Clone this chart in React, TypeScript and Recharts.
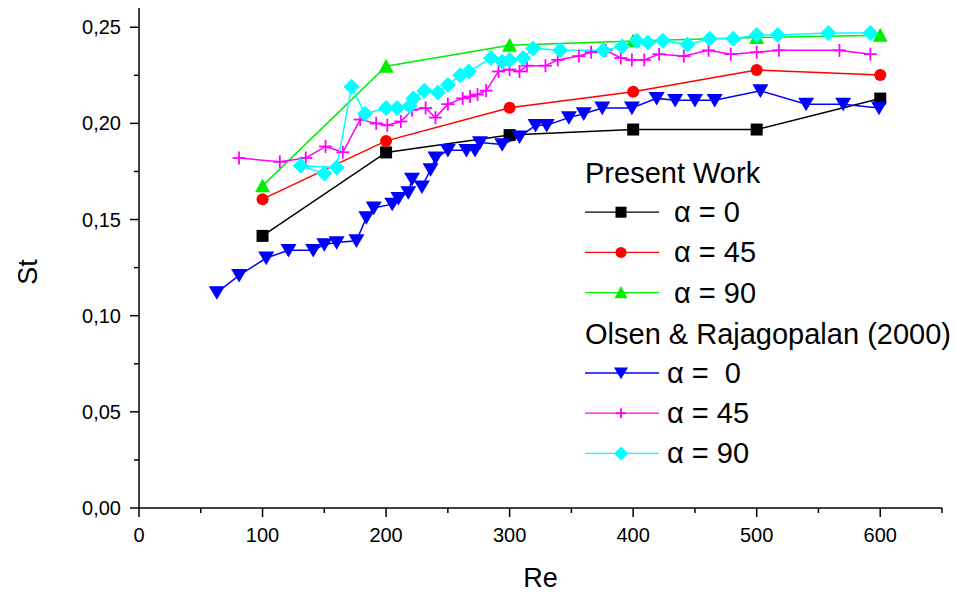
import React from 'react';
import { LineChart, Line, XAxis, YAxis, Legend } from 'recharts';

// Present work (Re = 100..600)
const presentRe = [100, 200, 300, 400, 500, 600];
const presentAlpha0 = [0.1415, 0.1849, 0.1939, 0.1968, 0.1968, 0.2129];
const presentAlpha45 = [0.1606, 0.1909, 0.2081, 0.2164, 0.2277, 0.2251];
const presentAlpha90 = [0.1675, 0.2297, 0.2406, 0.2429, 0.2446, 0.2458];

const olsenAlpha0Re = [63, 81, 103, 121, 141, 150, 160, 176, 184, 190, 205, 210, 218, 221, 229, 236, 240, 250, 265, 272, 276, 294, 308, 321, 330, 348, 360, 375, 399, 419, 434, 450, 466, 503, 540, 570, 599];
const olsenAlpha0St = [0.112, 0.121, 0.130, 0.134, 0.134, 0.137, 0.138, 0.139, 0.151, 0.156, 0.158, 0.161, 0.164, 0.171, 0.167, 0.176, 0.182, 0.186, 0.186, 0.186, 0.190, 0.189, 0.193, 0.199, 0.199, 0.203, 0.205, 0.208, 0.208, 0.213, 0.212, 0.212, 0.212, 0.217, 0.210, 0.210, 0.208];

const olsenAlpha45Re = [81, 114, 135, 151, 165, 179, 192, 201, 212, 221, 232, 240, 250, 262, 268, 274, 281, 291, 300, 308, 314, 329, 339, 356, 366, 378, 390, 399, 409, 421, 441, 461, 479, 500, 518, 567, 592];
const olsenAlpha45St = [0.182, 0.180, 0.182, 0.188, 0.185, 0.202, 0.200, 0.199, 0.201, 0.207, 0.208, 0.203, 0.210, 0.213, 0.214, 0.215, 0.217, 0.227, 0.228, 0.227, 0.230, 0.230, 0.233, 0.235, 0.237, 0.238, 0.234, 0.233, 0.233, 0.236, 0.235, 0.238, 0.236, 0.237, 0.238, 0.238, 0.236];

// kept in the order the original polyline visits them
const olsenAlpha90Re = [150, 131, 160, 172, 183, 200, 209, 219, 222, 231, 242, 250, 260, 267, 285, 294, 300, 311, 319, 341, 376, 391, 403, 412, 424, 444, 462, 481, 500, 517, 558, 592];
const olsenAlpha90St = [0.174, 0.178, 0.177, 0.219, 0.205, 0.208, 0.208, 0.209, 0.213, 0.217, 0.216, 0.220, 0.225, 0.227, 0.234, 0.232, 0.233, 0.234, 0.239, 0.238, 0.238, 0.240, 0.243, 0.242, 0.243, 0.241, 0.244, 0.244, 0.246, 0.246, 0.247, 0.247];

const xTicks = [0, 50, 100, 150, 200, 250, 300, 350, 400, 450, 500, 550, 600, 650];
const yTicks = [0, 0.025, 0.05, 0.075, 0.1, 0.125, 0.15, 0.175, 0.2, 0.225, 0.25];

const FONT = "'Liberation Sans', Arial, sans-serif";

type Shape = 'square' | 'circle' | 'up' | 'down' | 'plus' | 'diamond';

const toPoints = (xs: number[], ys: number[]) => xs.map((x, i) => ({ x, y: ys[i] }));

const marker = (shape: Shape, cx: number, cy: number, s: number, color: string) => {
  const h = s / 2;
  switch (shape) {
    case 'square':
      return <rect x={cx - h} y={cy - h} width={s} height={s} fill={color} />;
    case 'circle':
      return <circle cx={cx} cy={cy} r={h} fill={color} />;
    case 'up':
      return <polygon points={`${cx},${cy - h} ${cx + h},${cy + h * 0.85} ${cx - h},${cy + h * 0.85}`} fill={color} />;
    case 'down':
      return <polygon points={`${cx - h},${cy - h * 0.8} ${cx + h},${cy - h * 0.8} ${cx},${cy + h * 0.9}`} fill={color} />;
    case 'plus':
      return (
        <g stroke={color} strokeWidth={1.8}>
          <line x1={cx - h} y1={cy} x2={cx + h} y2={cy} />
          <line x1={cx} y1={cy - h} x2={cx} y2={cy + h} />
        </g>
      );
    case 'diamond':
      return <polygon points={`${cx},${cy - h} ${cx + h},${cy} ${cx},${cy + h} ${cx - h},${cy}`} fill={color} />;
  }
};

const makeDot = (shape: Shape, size: number, color: string) => (p: any) => {
  if (p.cx == null || p.cy == null) return <g key={`${shape}-${p.index}`} />;
  return <g key={`${shape}-${p.index}`}>{marker(shape, p.cx, p.cy, size, color)}</g>;
};

const XTick = (props: any) => {
  const { x, y, payload } = props;
  const major = payload.value % 100 === 0;
  return (
    <g>
      <line x1={x} y1={y} x2={x} y2={y + (major ? 9 : 5)} stroke="#000" strokeWidth={1.5} />
      {major && (
        <text x={x} y={y + 34} textAnchor="middle" fontSize={20} fontFamily={FONT} fill="#000">
          {payload.value}
        </text>
      )}
    </g>
  );
};

const YTick = (props: any) => {
  const { x, y, payload } = props;
  const major = Math.round(payload.value * 1000) % 50 === 0;
  return (
    <g>
      <line x1={x - (major ? 9 : 5)} y1={y} x2={x} y2={y} stroke="#000" strokeWidth={1.5} />
      {major && (
        <text x={x - 18} y={y + 7} textAnchor="end" fontSize={20} fontFamily={FONT} fill="#000">
          {payload.value.toFixed(2).replace('.', ',')}
        </text>
      )}
    </g>
  );
};

const series = [
  { name: 'present0', data: toPoints(presentRe, presentAlpha0), color: '#000000', shape: 'square' as Shape, size: 12 },
  { name: 'present45', data: toPoints(presentRe, presentAlpha45), color: '#ff0000', shape: 'circle' as Shape, size: 12 },
  { name: 'present90', data: toPoints(presentRe, presentAlpha90), color: '#00ee00', shape: 'up' as Shape, size: 15 },
  { name: 'olsen0', data: toPoints(olsenAlpha0Re, olsenAlpha0St), color: '#0000ff', shape: 'down' as Shape, size: 16 },
  { name: 'olsen45', data: toPoints(olsenAlpha45Re, olsenAlpha45St), color: '#ff00ff', shape: 'plus' as Shape, size: 13 },
  { name: 'olsen90', data: toPoints(olsenAlpha90Re, olsenAlpha90St), color: '#00ffff', shape: 'diamond' as Shape, size: 16 },
];

const legendGroups = [
  {
    title: 'Present Work',
    textX: 99,
    items: [
      { label: 'α = 0', color: '#000000', shape: 'square' as Shape, size: 11 },
      { label: 'α = 45', color: '#ff0000', shape: 'circle' as Shape, size: 11 },
      { label: 'α = 90', color: '#00ee00', shape: 'up' as Shape, size: 13 },
    ],
  },
  {
    title: 'Olsen & Rajagopalan (2000)',
    textX: 92,
    items: [
      { label: 'α =  0', color: '#0000ff', shape: 'down' as Shape, size: 14 },
      { label: 'α = 45', color: '#ff00ff', shape: 'plus' as Shape, size: 10 },
      { label: 'α = 90', color: '#00ffff', shape: 'diamond' as Shape, size: 14 },
    ],
  },
];

const ChartLegend = () => {
  const rowGap = 40.2;
  let y = 22;
  const nodes: React.ReactNode[] = [];
  legendGroups.forEach((g, gi) => {
    nodes.push(
      <text key={`t${gi}`} x={10} y={y + 11} fontSize={29} fontFamily={FONT} fill="#000">
        {g.title}
      </text>
    );
    g.items.forEach((it, ii) => {
      y += rowGap;
      nodes.push(
        <g key={`i${gi}-${ii}`}>
          <line x1={10} y1={y} x2={84} y2={y} stroke={it.color} strokeWidth={1.3} />
          {marker(it.shape, 46, y, it.size, it.color)}
          <text x={g.textX} y={y + 10} fontSize={29} fontFamily={FONT} fill="#000" style={{ whiteSpace: 'pre' }}>
            {it.label}
          </text>
        </g>
      );
    });
    y += rowGap;
  });
  return (
    <svg width={382} height={330}>
      {nodes}
    </svg>
  );
};

export default function App() {
  return (
    <div style={{ position: 'absolute', left: 0, top: 0, background: '#fff' }}>
      <LineChart width={957} height={595} margin={{ top: 8, right: 15, bottom: 0, left: 0 }}>
        <XAxis
          type="number"
          dataKey="x"
          domain={[0, 650]}
          ticks={xTicks}
          interval={0}
          height={87}
          tickSize={0}
          tickMargin={0}
          tickLine={false}
          axisLine={{ stroke: '#000', strokeWidth: 1.5 }}
          tick={<XTick />}
          label={{
            content: (p: any) => (
              <text x={p.viewBox.x + p.viewBox.width / 2} y={p.viewBox.y + 79} textAnchor="middle" fontSize={27} fontFamily={FONT} fill="#000">
                Re
              </text>
            ),
          }}
        />
        <YAxis
          type="number"
          dataKey="y"
          domain={[0, 0.26]}
          ticks={yTicks}
          interval={0}
          width={139}
          tickSize={0}
          tickMargin={0}
          tickLine={false}
          axisLine={{ stroke: '#000', strokeWidth: 1.5 }}
          tick={<YTick />}
          label={{
            content: (p: any) => {
              const cx = p.viewBox.x + 37;
              const cy = p.viewBox.y + p.viewBox.height / 2 + 14;
              return (
                <text transform={`translate(${cx},${cy}) rotate(-90)`} textAnchor="middle" fontSize={27} fontFamily={FONT} fill="#000">
                  St
                </text>
              );
            },
          }}
        />
        <Legend
          layout="horizontal"
          verticalAlign="middle"
          align="center"
          wrapperStyle={{ left: 575, top: 150, width: 382, height: 330 }}
          content={() => <ChartLegend />}
        />
        {series.map((s) => (
          <Line
            key={s.name}
            data={s.data}
            dataKey="y"
            type="linear"
            stroke={s.color}
            strokeWidth={1.5}
            dot={makeDot(s.shape, s.size, s.color)}
            activeDot={false}
            legendType="none"
            isAnimationActive={false}
          />
        ))}
      </LineChart>
    </div>
  );
}
